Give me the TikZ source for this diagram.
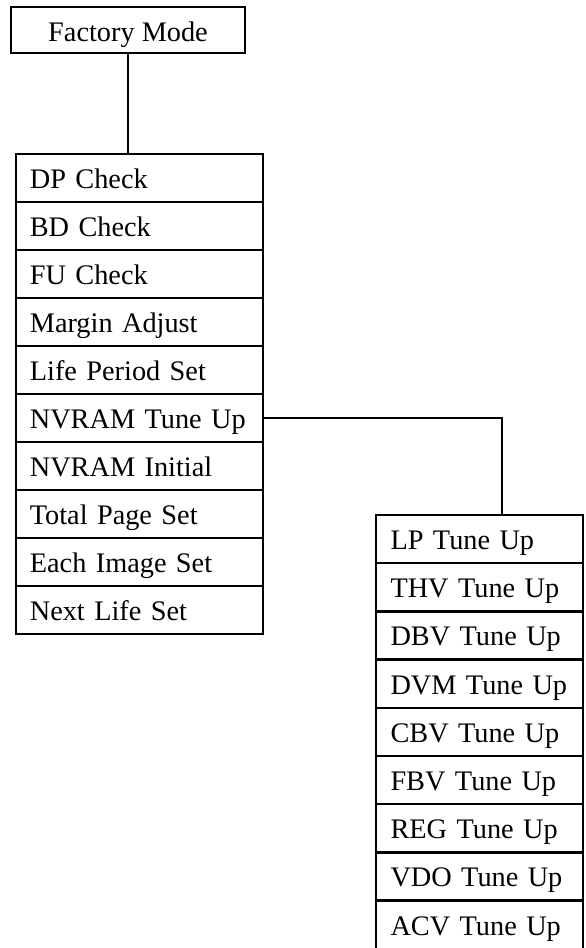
\documentclass[tikz,border=0pt]{standalone}
\usepackage{fontspec}
\setmainfont{Liberation Serif}
\begin{document}
\begin{tikzpicture}[x=1pt,y=-1pt,
  every node/.style={font=\fontsize{28.3pt}{34pt}\selectfont},
  box/.style={draw,line width=2.3pt,rectangle,inner sep=0pt},
  leftcell/.style={box,minimum width=247.3pt,minimum height=48pt,
    text width=219pt,align=left,text height=24pt,text depth=3.4pt},
  rightcell/.style={box,minimum width=207pt,minimum height=48.2pt,
    text width=178pt,align=left,text height=24pt,text depth=3.4pt},
  link/.style={line width=2.3pt}]
\useasboundingbox (0,0) rectangle (586,948);
\node[box,minimum width=234pt,minimum height=46pt,text height=24pt,text depth=0.6pt] (fm) at (128,30) {Factory Mode};
\foreach \t [count=\i] in {DP Check,BD Check,FU Check,Margin Adjust,Life Period Set,NVRAM Tune Up,NVRAM Initial,Total Page Set,Each Image Set,Next Life Set}
  \node[leftcell] (l\i) at (139.35,{154+48*(\i-0.5)}) {\t};
\foreach \t [count=\i] in {LP Tune Up,THV Tune Up,DBV Tune Up,DVM Tune Up,CBV Tune Up,FBV Tune Up,REG Tune Up,VDO Tune Up,ACV Tune Up}
  \node[rightcell] (r\i) at (479.5,{515+48.2*(\i-0.5)}) {\t};
\draw[link] (fm.south) -- (fm.south |- l1.north);
\draw[link] (l6.east) -| ([xshift=22.5pt]r1.north);
\end{tikzpicture}
\end{document}
